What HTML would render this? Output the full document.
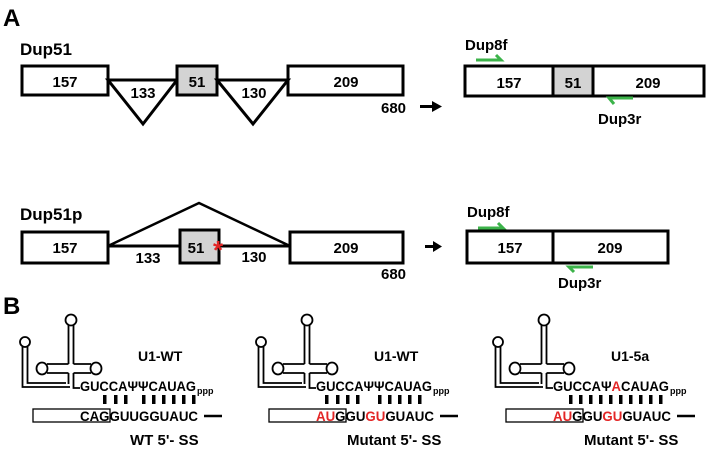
<!DOCTYPE html>
<html><head><meta charset="utf-8"><style>
html,body{margin:0;padding:0;background:#fff;width:708px;height:457px;overflow:hidden}
text{font-family:"Liberation Sans",Arial,sans-serif;font-weight:bold;fill:#000}
</style></head><body>
<svg width="708" height="457" viewBox="0 0 708 457" xmlns="http://www.w3.org/2000/svg">
<defs>
<g id="u1" fill="none" stroke="#000" stroke-width="1.8">
  <circle cx="25" cy="342" r="5"/>
  <path d="M22.5 347 V387 H70 M27.5 347 V383 H66"/>
  <circle cx="71" cy="320" r="5.5"/>
  <path d="M68.5 325.5 V364 M73.5 325.5 V364 M68.5 373 V384 M73.5 373 V388 H80"/>
  <path d="M47 364 H68.5 M47 373 H68.5 M73.5 364 H91 M73.5 373 H91"/>
  <ellipse cx="42" cy="368.5" rx="5.5" ry="6"/>
  <ellipse cx="96" cy="368.5" rx="5.5" ry="6"/>
  <rect x="33" y="409" width="77" height="13" stroke-width="1.3"/>
  <line x1="204" y1="416" x2="222" y2="416" stroke-width="2.5"/>
</g>
</defs>
<text x="3" y="26" font-size="24">A</text>
<text x="20" y="55" font-size="17">Dup51</text>
<g fill="none" stroke="#000" stroke-width="3">
  <rect x="22" y="66" width="86" height="29"/>
  <path d="M108 80 H177 L143 124 Z"/>
  <rect x="177" y="66" width="40" height="29" fill="#d3d3d3"/>
  <path d="M217 80 H288 L253 124 Z"/>
  <rect x="288" y="66" width="115" height="29"/>
  <rect x="465" y="66" width="239" height="30"/>
  <rect x="553" y="66" width="40" height="30" fill="#d3d3d3"/>
</g>
<g fill="none" stroke="#000" stroke-width="3">
  <path d="M108 246 H180 M219 246 H290"/>
  <path d="M108 246 L199 203 L290 246" stroke-width="2.5"/>
  <rect x="22" y="232" width="86" height="31"/>
  <rect x="180" y="230" width="39" height="33" fill="#d3d3d3"/>
  <rect x="290" y="232" width="113" height="31"/>
  <rect x="467" y="231" width="201" height="32"/>
  <line x1="553" y1="231" x2="553" y2="263"/>
</g>
<g font-size="15" text-anchor="middle">
<text x="65" y="87">157</text>
<text x="143" y="98">133</text>
<text x="197" y="87">51</text>
<text x="254" y="98">130</text>
<text x="346" y="87">209</text>
<text x="509" y="88">157</text>
<text x="573" y="88">51</text>
<text x="648" y="88">209</text>
<text x="510" y="253">157</text>
<text x="65" y="253">157</text>
<text x="196" y="253">51</text>
<text x="148" y="263">133</text>
<text x="254" y="262">130</text>
<text x="346" y="253">209</text>
<text x="610" y="253">209</text>
</g>
<text x="381" y="113" font-size="15">680</text>
<text x="465" y="50" font-size="15">Dup8f</text>
<text x="598" y="124" font-size="15">Dup3r</text>
<g stroke="#3cb34a" stroke-width="3" fill="none">
  <path d="M476 60 H501 L496 55"/>
  <path d="M633 98 H609 L614 104"/>
  <path d="M478 228 H503 L498 223"/>
  <path d="M593 267 H569 L574 272"/>
</g>
<g fill="#000">
  <rect x="420" y="105" width="14" height="3"/><path d="M432 101 L442 106.5 L432 112 Z"/>
  <rect x="425" y="245" width="10" height="3"/><path d="M433 241 L442 246.5 L433 252 Z"/>
</g>
<text x="20" y="220" font-size="17">Dup51p</text>
<text x="218" y="259" font-size="26" style="fill:#e32626" text-anchor="middle">*</text>
<text x="381" y="279" font-size="15">680</text>
<text x="467" y="217" font-size="15">Dup8f</text>
<text x="558" y="288" font-size="15">Dup3r</text>
<text x="3" y="314" font-size="24">B</text>
<g font-size="14">
<use href="#u1"/>
<text x="138" y="361" font-size="14">U1-WT</text>
<text x="80" y="391" textLength="116" lengthAdjust="spacingAndGlyphs">GUCCAΨΨCAUAG</text><text x="197" y="394" font-size="9">ppp</text>
<g fill="#000"><rect x="103" y="395" width="3.5" height="9"/><rect x="114" y="395" width="3.5" height="9"/><rect x="124" y="395" width="3.5" height="9"/><rect x="142" y="395" width="3.5" height="9"/><rect x="152" y="395" width="3.5" height="9"/><rect x="162" y="395" width="3.5" height="9"/><rect x="172" y="395" width="3.5" height="9"/><rect x="182" y="395" width="3.5" height="9"/><rect x="192" y="395" width="3.5" height="9"/></g>
<text x="80" y="421" textLength="118" lengthAdjust="spacingAndGlyphs">CAGGUUGGUAUC</text>
<text x="130" y="445" font-size="15">WT 5'- SS</text>
<g transform="translate(236,0)">
<use href="#u1"/>
<text x="138" y="361" font-size="14">U1-WT</text>
<text x="80" y="391" textLength="116" lengthAdjust="spacingAndGlyphs">GUCCAΨΨCAUAG</text><text x="197" y="394" font-size="9">ppp</text>
<g fill="#000"><rect x="89" y="395" width="3.5" height="9"/><rect x="100" y="395" width="3.5" height="9"/><rect x="110" y="395" width="3.5" height="9"/><rect x="120" y="395" width="3.5" height="9"/><rect x="142" y="395" width="3.5" height="9"/><rect x="152" y="395" width="3.5" height="9"/><rect x="162" y="395" width="3.5" height="9"/><rect x="172" y="395" width="3.5" height="9"/><rect x="182" y="395" width="3.5" height="9"/></g>
<text x="80" y="421" textLength="118" lengthAdjust="spacingAndGlyphs"><tspan style="fill:#e32626">AU</tspan>GGU<tspan style="fill:#e32626">GU</tspan>GUAUC</text>
<text x="111" y="445" font-size="15">Mutant 5'- SS</text>
</g>
<g transform="translate(473,0)">
<use href="#u1"/>
<text x="138" y="361" font-size="14">U1-5a</text>
<text x="80" y="391" textLength="116" lengthAdjust="spacingAndGlyphs">GUCCAΨ<tspan style="fill:#e32626">A</tspan>CAUAG</text><text x="197" y="394" font-size="9">ppp</text>
<g fill="#000"><rect x="96" y="395" width="3.5" height="9"/><rect x="106" y="395" width="3.5" height="9"/><rect x="116" y="395" width="3.5" height="9"/><rect x="126" y="395" width="3.5" height="9"/><rect x="136" y="395" width="3.5" height="9"/><rect x="146" y="395" width="3.5" height="9"/><rect x="156" y="395" width="3.5" height="9"/><rect x="166" y="395" width="3.5" height="9"/><rect x="176" y="395" width="3.5" height="9"/><rect x="186" y="395" width="3.5" height="9"/></g>
<text x="80" y="421" textLength="118" lengthAdjust="spacingAndGlyphs"><tspan style="fill:#e32626">AU</tspan>GGU<tspan style="fill:#e32626">GU</tspan>GUAUC</text>
<text x="111" y="445" font-size="15">Mutant 5'- SS</text>
</g>
</g>
</svg>
</body></html>
